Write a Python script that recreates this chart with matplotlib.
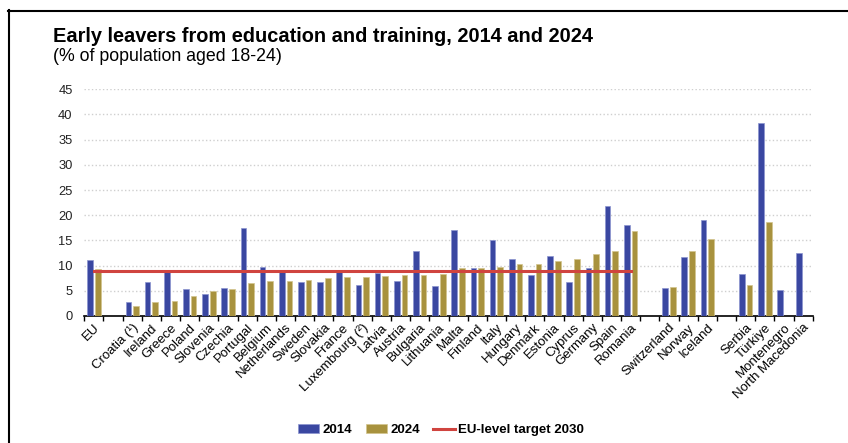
import numpy as np
import matplotlib
matplotlib.use("Agg")
import matplotlib.pyplot as plt
from matplotlib.lines import Line2D

plt.rcParams['font.family'] = ['Liberation Sans', 'DejaVu Sans']

# Categories ('' = empty slot between country groups)
countries = ['EU', '', 'Croatia (¹)', 'Ireland', 'Greece', 'Poland', 'Slovenia', 'Czechia',
             'Portugal', 'Belgium', 'Netherlands', 'Sweden', 'Slovakia', 'France',
             'Luxembourg (²)', 'Latvia', 'Austria', 'Bulgaria', 'Lithuania', 'Malta',
             'Finland', 'Italy', 'Hungary', 'Denmark', 'Estonia', 'Cyprus', 'Germany',
             'Spain', 'Romania', '', 'Switzerland', 'Norway', 'Iceland', '',
             'Serbia', 'Türkiye', 'Montenegro', 'North Macedonia']

nan = np.nan
v2014 = [11.1, nan, 2.8, 6.7, 9.0, 5.4, 4.4, 5.5, 17.4, 9.8, 8.9, 6.7, 6.7, 8.9,
         6.1, 8.5, 7.0, 12.9, 5.9, 17.1, 9.5, 15.0, 11.4, 8.1, 12.0, 6.8, 9.5,
         21.9, 18.1, nan, 5.5, 11.7, 19.1, nan, 8.4, 38.3, 5.1, 12.5]
v2024 = [9.3, nan, 2.0, 2.8, 2.9, 4.0, 5.0, 5.3, 6.5, 7.0, 7.0, 7.2, 7.5, 7.7,
         7.7, 7.9, 8.1, 8.2, 8.4, 9.6, 9.6, 9.8, 10.3, 10.4, 11.0, 11.4, 12.4,
         13.0, 16.8, nan, 5.7, 13.0, 15.3, nan, 6.2, 18.7, nan, nan]
target = 9.0
target_span = ('EU', 'Romania')

blue = '#3A47A1'
gold = '#A8923E'
red = '#D0443F'

fig = plt.figure(figsize=(8.48, 4.43), dpi=100)
ax = fig.add_axes([0.0994, 0.2867, 0.859, 0.5117])

x = np.arange(len(countries))
w = 0.3
b1 = ax.bar(x - 0.2, v2014, w, color=blue, edgecolor='#8C95CF', linewidth=0.5, label='2014', zorder=3)
b2 = ax.bar(x + 0.2, v2024, w, color=gold, edgecolor='#D2C48E', linewidth=0.5, label='2024', zorder=3)
i0, i1 = countries.index(target_span[0]), countries.index(target_span[1])
ln, = ax.plot([i0, i1], [target, target], color=red, lw=2.2, label='EU-level target 2030', zorder=4)

ax.set_xlim(-0.5, len(countries) - 0.5)
ax.set_ylim(0, 45)
ax.set_yticks(range(0, 46, 5))
ax.yaxis.grid(True, color='#cfcfcf', linestyle=':', linewidth=1.0, zorder=0)
ax.tick_params(axis='y', length=0, pad=8.4, labelsize=9.3, labelcolor='#222222')

ax.set_xticks(x)
ax.set_xticklabels(countries, rotation=45, ha='right', rotation_mode='anchor', fontsize=9.5)
ax.set_xticks(np.arange(-0.5, len(countries), 1), minor=True)
ax.tick_params(axis='x', which='major', length=0, pad=4)
ax.tick_params(axis='x', which='minor', length=3.5, width=1, direction='out')

for s in ['top', 'right', 'left']:
    ax.spines[s].set_visible(False)
ax.spines['bottom'].set_linewidth(1.2)

fig.text(53 / 848, 1 - 42 / 443, 'Early leavers from education and training, 2014 and 2024',
         fontsize=14.4, fontweight='bold', va='baseline')
fig.text(53 / 848, 1 - 61 / 443, '(% of population aged 18-24)', fontsize=12.8, va='baseline')

fig.legend([b1, b2, ln], ['2014', '2024', 'EU-level target 2030'],
           loc='center', bbox_to_anchor=(441 / 848, 1 - 430 / 443), ncol=3, frameon=False,
           handlelength=1.6, handleheight=0.6, handletextpad=0.3, columnspacing=1.0,
           prop={'weight': 'bold', 'size': 9.5})

# frame around the figure (top and left edges visible)
fig.add_artist(Line2D([8 / 848, 1], [1 - 10.5 / 443] * 2, color='black', lw=1.5, transform=fig.transFigure))
fig.add_artist(Line2D([8.5 / 848] * 2, [0, 1 - 10 / 443], color='black', lw=1.5, transform=fig.transFigure))

fig.savefig('out.png', dpi=100)
